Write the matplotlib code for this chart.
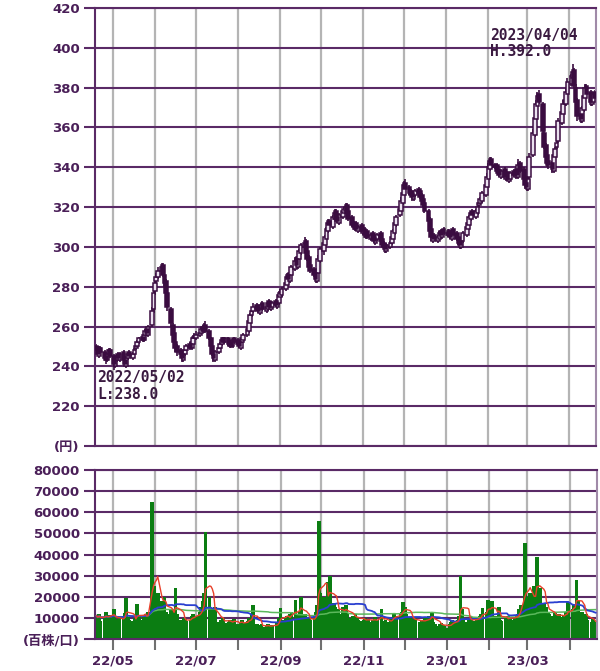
import numpy as np
import pandas as pd
import matplotlib
matplotlib.use("Agg")
import matplotlib.pyplot as plt
import matplotlib.dates as mdates

plt.rcParams['font.family'] = ['DejaVu Sans', 'Noto Sans CJK JP']

start_date = "2022-04-19"
end_date = "2023-04-20"

# daily OHLC (yen) by month
opens = [
    250, 249, 245, 249, 247, 245, 243, 246, 248,
    245, 240, 243, 246, 243, 247, 243, 240, 244, 247, 244, 246, 249, 250, 252, 255, 253, 256, 259, 256, 261, 269,
    278, 283, 285, 288, 291, 286, 283, 277, 269, 261, 257, 252, 250, 248, 246, 243, 246, 248, 251, 249, 251, 254,
    254, 256, 257, 260, 258, 261, 258, 254, 250, 246, 243, 247, 249, 251, 254, 252, 254, 250, 252, 250, 254,
    253, 252, 249, 252, 253, 256, 258, 262, 266, 268, 271, 270, 267, 269, 272, 268, 269, 273, 269, 270, 273, 270, 272,
    275, 276, 279, 281, 286, 283, 286, 289, 294, 290, 294, 297, 300, 303, 298, 295, 291, 289, 287, 283, 287, 293,
    298, 301, 304, 308, 313, 310, 314, 318, 315, 312, 315, 317, 318, 321, 318, 315, 312, 309, 312, 308, 311,
    307, 309, 305, 308, 304, 307, 305, 302, 304, 307, 304, 302, 301, 298, 300, 302, 304, 307, 311, 316, 318, 322,
    326, 332, 330, 328, 327, 324, 326, 329, 328, 326, 324, 322, 318, 314, 309, 303, 306, 303, 304, 308, 305, 309,
    306, 308, 307, 304, 309, 307, 305, 303, 300, 303, 306, 309, 311, 314, 318, 315, 317, 321, 322, 323, 326, 330,
    334, 339, 344, 341, 341, 339, 338, 335, 339, 334, 337, 333, 334, 338, 335, 339, 335, 342, 339, 335,
    332, 329, 335, 346, 356, 364, 371, 377, 372, 357, 351, 346, 343, 342, 338, 345, 350, 353, 362, 367, 373, 372, 377,
    382, 385, 389, 380, 374, 367, 363, 369, 375, 381, 378, 372, 373, 378,
]
closes = [
    248, 246, 249, 247, 244, 243, 246, 248, 245,
    241, 243, 245, 244, 246, 243, 241, 244, 246, 245, 246, 248, 250, 252, 254, 253, 256, 258, 257, 260, 268, 277,
    282, 285, 288, 290, 286, 282, 277, 270, 262, 256, 252, 249, 247, 246, 244, 246, 248, 250, 249, 252, 254, 255,
    256, 257, 259, 258, 260, 258, 254, 250, 246, 244, 247, 249, 251, 253, 252, 254, 251, 252, 250, 253, 252,
    251, 250, 252, 254, 256, 259, 263, 266, 268, 270, 269, 268, 270, 271, 269, 270, 272, 270, 271, 272, 271, 273, 276,
    277, 279, 282, 285, 284, 287, 290, 293, 291, 295, 298, 301, 302, 297, 294, 290, 288, 286, 284, 288, 294, 299,
    302, 305, 309, 312, 311, 315, 317, 314, 313, 316, 318, 319, 320, 317, 314, 311, 310, 311, 309, 310, 308,
    308, 306, 307, 305, 306, 304, 303, 305, 306, 303, 301, 300, 299, 301, 302, 305, 308, 312, 315, 319, 323, 327,
    331, 329, 327, 326, 325, 327, 328, 327, 325, 323, 321, 318, 313, 308, 305, 305, 304, 305, 307, 306, 308, 307,
    307, 306, 305, 308, 306, 304, 302, 301, 304, 307, 310, 312, 315, 317, 316, 318, 320, 322, 324, 327, 331, 335,
    340, 343, 341, 340, 338, 337, 336, 338, 335, 336, 334, 335, 337, 336, 338, 336, 341, 338, 334, 331,
    330, 334, 345, 357, 365, 372, 376, 373, 358, 350, 345, 342, 341, 339, 346, 349, 352, 363, 368, 372, 374, 378, 383,
    386, 388, 381, 373, 366, 364, 370, 376, 380, 377, 373, 374, 377, 375,
]
highs = [
    251, 250, 250, 250, 248, 246, 247, 249, 249,
    246, 244, 246, 247, 247, 248, 244, 245, 247, 248, 247, 249, 251, 253, 255, 256, 257, 259, 260, 261, 270, 280,
    284, 287, 290, 292, 292, 288, 284, 278, 270, 262, 258, 254, 251, 249, 247, 247, 249, 251, 252, 253, 256, 257,
    258, 258, 260, 261, 262, 263, 259, 255, 251, 247, 248, 250, 252, 254, 255, 255, 255, 253, 253, 254, 255,
    254, 253, 253, 255, 257, 260, 264, 267, 269, 272, 272, 271, 271, 272, 273, 271, 273, 274, 272, 273, 274, 274, 278,
    279, 280, 283, 287, 287, 288, 291, 295, 295, 296, 299, 302, 305, 304, 299, 296, 292, 290, 288, 289, 296, 300,
    303, 306, 310, 314, 314, 316, 319, 319, 316, 317, 319, 320, 322, 322, 319, 316, 313, 312, 313, 311, 312,
    310, 310, 308, 309, 307, 308, 306, 306, 307, 308, 305, 303, 302, 302, 303, 306, 309, 313, 316, 320, 325, 329,
    333, 334, 331, 329, 328, 328, 329, 330, 329, 327, 325, 323, 319, 315, 310, 306, 307, 306, 308, 309, 309, 310,
    309, 309, 308, 309, 310, 308, 306, 304, 305, 308, 311, 313, 316, 318, 319, 319, 321, 323, 325, 328, 332, 337,
    342, 345, 345, 342, 342, 340, 339, 339, 340, 337, 338, 336, 338, 339, 339, 340, 344, 343, 340, 336,
    334, 335, 347, 359, 367, 374, 378, 379, 373, 358, 352, 347, 344, 343, 347, 350, 353, 365, 369, 374, 376, 380, 385,
    387, 392, 390, 382, 375, 368, 371, 377, 382, 382, 379, 375, 378, 379,
]
lows = [
    247, 245, 244, 246, 243, 241, 242, 245, 244,
    238, 239, 242, 243, 242, 242, 240, 239, 243, 244, 243, 245, 248, 249, 251, 252, 252, 255, 256, 255, 260, 267,
    276, 281, 284, 286, 285, 280, 275, 268, 260, 255, 250, 247, 245, 244, 242, 242, 245, 247, 248, 248, 250, 253,
    253, 255, 256, 257, 257, 257, 253, 249, 245, 242, 242, 246, 248, 250, 251, 251, 250, 249, 249, 249, 251,
    250, 249, 248, 251, 252, 255, 257, 261, 265, 267, 268, 267, 266, 268, 268, 267, 268, 269, 268, 269, 270, 269, 271,
    274, 275, 278, 280, 283, 282, 285, 288, 290, 289, 293, 296, 299, 296, 293, 289, 287, 285, 282, 282, 286, 292,
    296, 300, 303, 307, 310, 309, 313, 313, 312, 311, 314, 316, 317, 316, 313, 310, 309, 308, 308, 307, 307,
    306, 305, 304, 304, 303, 303, 302, 301, 303, 302, 300, 299, 297, 297, 299, 301, 303, 306, 310, 315, 317, 321,
    325, 328, 326, 325, 323, 323, 325, 326, 324, 322, 320, 317, 312, 307, 303, 302, 303, 302, 303, 305, 304, 306,
    305, 305, 304, 303, 305, 303, 301, 299, 299, 302, 305, 308, 310, 313, 315, 314, 316, 320, 321, 322, 325, 329,
    333, 338, 340, 339, 337, 336, 335, 334, 334, 333, 333, 332, 333, 335, 334, 335, 334, 337, 333, 329,
    328, 328, 334, 345, 355, 363, 370, 372, 357, 349, 343, 340, 339, 337, 337, 344, 349, 352, 361, 366, 371, 371, 376,
    381, 384, 380, 372, 363, 362, 362, 368, 374, 376, 371, 371, 372, 374,
]
# daily volume (hundreds of shares)
volumes = [
    11000, 9500, 12000, 8500, 10500, 13000, 9000, 11500, 10000,
    14000, 9000, 8000, 9500, 10000, 11000, 12500, 19500, 10500, 9000, 8500, 10000, 9500, 16500, 11000,
    9000, 10500, 12000, 11500, 13000, 65000, 25000,
    20000, 16000, 22000, 18000, 15000, 20000, 13000, 12000, 14000, 11000, 13000, 24000, 12000,
    9000, 8000, 10000, 9500, 8500, 9000, 11000, 12000, 10500,
    11000, 13000, 15000, 18000, 22000, 50500, 20000, 14000, 12000, 11000, 15000,
    8000, 9000, 8500, 10000, 7500, 8000, 9000, 7000, 8500, 9500,
    7000, 6500, 8000, 9000, 7500, 8500, 10000, 9000, 12000, 16000, 7000, 6000, 6500, 7000, 5500,
    6000, 7000, 5500, 6500, 6000, 7500, 8000, 10000,
    14500, 9000, 10000, 11000, 9000, 12000, 13000, 18500, 10000, 12000, 13000, 20000,
    12000, 9000, 8000, 10000, 9000, 11000, 13000, 16000, 56000, 22000,
    20000, 18000, 15000, 27000, 30000, 17000, 15000, 13000, 14000, 12000,
    15000, 13000, 16000, 12000, 10000, 11000, 9000, 12000, 10000, 9000, 8500,
    9000, 10000, 8500, 9500, 8000, 9000, 10500, 8000, 9000, 14000, 8500, 7500, 9000, 8000,
    9500, 10000, 12000, 11000, 10000, 12500, 13000, 17500,
    15000, 12000, 10000, 9000, 8000, 9500, 10000, 8000, 7500, 8500, 9000, 10000,
    11000, 9000, 13000, 8000, 7000, 6000, 7000, 7500, 6500, 6000,
    5000, 7000, 8000, 9000, 8500, 9000, 11000, 30000, 14000, 10000, 8000, 9000, 9500, 10000, 8500,
    9000, 10000, 11000, 12000, 14500, 13000, 18500,
    13000, 12000, 18000, 11000, 10000, 15000, 9000, 8500, 10000, 9500, 11000, 10000, 9000,
    10500, 11000, 12000, 14000, 16000, 45500, 20000,
    16000, 18000, 22000, 25000, 20000, 39000, 18000, 24000, 17000, 14000, 15000, 13000, 12000,
    11000, 12500, 10000, 11000, 12000, 10500, 11000, 13000, 12000, 17500,
    14000, 16000, 15000, 28000, 18000, 13000, 11000, 10000, 12000, 9000, 8000, 9500, 8000, 7500,
]

price_ticks = [200, 220, 240, 260, 280, 300, 320, 340, 360, 380, 400, 420]
price_labels = ['(円)', '220', '240', '260', '280', '300', '320', '340', '360', '380', '400', '420']
vol_ticks = [0, 10000, 20000, 30000, 40000, 50000, 60000, 70000, 80000]
vol_labels = ['(百株/口)', '10000', '20000', '30000', '40000', '50000', '60000', '70000', '80000']
month_labels = ['22/05', '', '22/07', '', '22/09', '', '22/11', '', '23/01', '', '23/03', '']
high_note = ['2023/04/04', 'H.392.0']
low_note = ['2022/05/02', 'L:238.0']

dates = pd.bdate_range(start_date, end_date)
n = min(len(dates), len(opens), len(closes), len(highs), len(lows), len(volumes))
dates = dates[:n]
o = np.array(opens[:n], float)
c = np.array(closes[:n], float)
h = np.array(highs[:n], float)
l = np.array(lows[:n], float)
v = np.array(volumes[:n], float)
x = mdates.date2num(dates)

PURPLE = '#5a2a66'
DARK = '#3a0c40'
GREY = '#b4b4b4'
TXT = '#4a1f58'

fig = plt.figure(figsize=(6.0, 6.71), dpi=100)
ax1 = fig.add_axes([95/600, 1-446/671, 501/600, 438/671])
ax2 = fig.add_axes([95/600, 1-639/671, 502/600, 169/671])

xmin = mdates.date2num(pd.Timestamp("2022-04-18"))
xmax = mdates.date2num(pd.Timestamp("2023-04-21"))
month_starts = pd.date_range("2022-05-01", "2023-04-01", freq='MS')
mx = mdates.date2num(month_starts)

for ax in (ax1, ax2):
    ax.set_xlim(xmin, xmax)
    for m in mx:
        ax.axvline(m, color=GREY, lw=1.6, zorder=0)
    for s in ax.spines.values():
        s.set_color(PURPLE)
        s.set_linewidth(1.5)
    ax.spines['right'].set_color('#a08aa8')

# price panel
ax1.set_ylim(200, 420)
ax1.set_yticks(price_ticks)
ax1.set_yticklabels(price_labels)
for t in price_ticks:
    ax1.axhline(t, color=PURPLE, lw=1.5, zorder=0.5)
ax1.set_xticks([])
ax1.tick_params(axis='y', length=8, width=1.5, color=PURPLE, labelsize=9.5,
                labelcolor=TXT, pad=3)
for lab in ax1.get_yticklabels():
    lab.set_fontweight('bold')

up = c >= o
body_lo = np.minimum(o, c)
body_h = np.maximum(np.abs(c - o), 0.8)
ax1.vlines(x, l, h, color=DARK, lw=1.2, zorder=2)
ax1.bar(x[up], body_h[up], bottom=body_lo[up], width=2.8, color='#ece2f0',
        edgecolor=DARK, linewidth=1.1, zorder=3)
ax1.bar(x[~up], body_h[~up], bottom=body_lo[~up], width=2.8, color=DARK,
        edgecolor=DARK, linewidth=1.1, zorder=3)

mono = {'family': 'DejaVu Sans Mono', 'weight': 'bold', 'size': 10.5, 'color': '#3a1a40'}
ax1.text(0.788, 0.938, high_note[0], transform=ax1.transAxes, ha='left', va='center', **mono)
ax1.text(0.788, 0.900, high_note[1], transform=ax1.transAxes, ha='left', va='center', **mono)
ax1.text(0.005, 0.156, low_note[0], transform=ax1.transAxes, ha='left', va='center', **mono)
ax1.text(0.005, 0.118, low_note[1], transform=ax1.transAxes, ha='left', va='center', **mono)

# volume panel
ax2.set_ylim(0, 80000)
ax2.set_yticks(vol_ticks)
ax2.set_yticklabels(vol_labels)
for t in vol_ticks[1:]:
    ax2.axhline(t, color=PURPLE, lw=1.5, zorder=0.5)
ax2.tick_params(axis='y', length=8, width=1.5, color=PURPLE, labelsize=9.5,
                labelcolor=TXT, pad=3)
ax2.set_xticks(mx)
ax2.set_xticklabels(month_labels)
ax2.tick_params(axis='x', length=8, width=1.5, color='#707070', labelsize=9.5,
                labelcolor=TXT, pad=3)
for lab in ax2.get_yticklabels() + ax2.get_xticklabels():
    lab.set_fontweight('bold')

ax2.bar(x, v, width=2.8, color='#0b7d12', linewidth=0, zorder=2)
vs = pd.Series(v)
ax2.plot(x, vs.rolling(75, min_periods=1).mean(), color='#5cb85c', lw=1.1, zorder=3)
ax2.plot(x, vs.rolling(25, min_periods=1).mean(), color='#2a3fd0', lw=1.3, zorder=4)
ax2.plot(x, vs.rolling(5, min_periods=1).mean(), color='#e8402a', lw=1.0, zorder=5)

fig.savefig("out.png", dpi=100, facecolor='white')
